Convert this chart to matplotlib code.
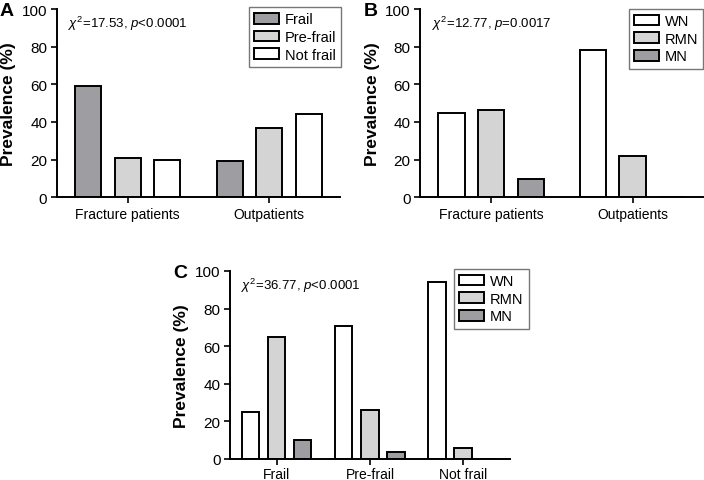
import matplotlib
matplotlib.use("Agg")
import matplotlib.pyplot as plt
import numpy as np

plt.rcParams['font.family'] = ['Liberation Sans', 'DejaVu Sans']
plt.rcParams['mathtext.fontset'] = 'custom'
plt.rcParams['mathtext.it'] = 'Liberation Sans:italic'
plt.rcParams['mathtext.rm'] = 'Liberation Sans'

# Panel A
groups_a = ["Fracture patients", "Outpatients"]
series_a = ["Frail", "Pre-frail", "Not frail"]
frail_a = [59, 19]
prefrail_a = [21, 37]
notfrail_a = [20, 44]

# Panel B
groups_b = ["Fracture patients", "Outpatients"]
series_b = ["WN", "RMN", "MN"]
wn_b = [44.5, 78]
rmn_b = [46.5, 22]
mn_b = [9.5, 0]

# Panel C
groups_c = ["Frail", "Pre-frail", "Not frail"]
series_c = ["WN", "RMN", "MN"]
wn_c = [25, 70.5, 94]
rmn_c = [65, 26, 6]
mn_c = [10, 3.5, 0]

DARK = "#9d9da2"
LIGHT = "#d4d4d4"
WHITE = "#ffffff"

fig = plt.figure(figsize=(7.04, 4.81), dpi=100)

def panel(rect, groups, names, data, colors, stat, letter, leg_anchor, xpad=3):
    ax = fig.add_axes(rect)
    x = np.arange(len(groups))
    offs = [-0.28, 0.0, 0.28]
    for i, (vals, c, nm) in enumerate(zip(data, colors, names)):
        ax.bar(x + offs[i], vals, width=0.185, color=c, edgecolor="black",
               linewidth=1.4, label=nm)
    ax.set_xlim(-0.5, len(groups) - 0.5)
    ax.set_ylim(0, 100)
    ax.set_yticks([0, 20, 40, 60, 80, 100])
    ax.set_xticks(x)
    ax.set_xticklabels(groups, fontsize=10)
    ax.tick_params(axis='y', labelsize=11, width=1.2, length=4, pad=3)
    ax.tick_params(axis='x', width=1.2, length=4, pad=xpad)
    for s in ["top", "right"]:
        ax.spines[s].set_visible(False)
    for s in ["left", "bottom"]:
        ax.spines[s].set_linewidth(1.4)
    ax.set_ylabel("Prevalence (%)", fontsize=12.5, fontweight="bold", labelpad=4)
    ax.text(0.04, 0.925, stat, transform=ax.transAxes, fontsize=9.5, va="center")
    leg = ax.legend(loc="upper right", bbox_to_anchor=leg_anchor, frameon=True,
                    fancybox=False, edgecolor="#555555", fontsize=10.5,
                    handlelength=1.7, handleheight=0.75, handletextpad=0.4,
                    labelspacing=0.25, borderpad=0.35, borderaxespad=0.0)
    leg.get_frame().set_linewidth(1.0)
    leg.set_clip_on(False)
    fig.text(rect[0] - 0.081, rect[1] + rect[3] - 0.003, letter, fontsize=14,
             fontweight="bold", va="center", ha="left")
    return ax

panel([0.081, 0.588, 0.402, 0.391], groups_a, series_a,
      [frail_a, prefrail_a, notfrail_a], [DARK, LIGHT, WHITE],
      r"$\chi^{2}$=17.53, $p$<0.0001", "A", (1.004, 1.01))
panel([0.597, 0.588, 0.402, 0.391], groups_b, series_b,
      [wn_b, rmn_b, mn_b], [WHITE, LIGHT, DARK],
      r"$\chi^{2}$=12.77, $p$=0.0017", "B", (1.0, 1.0))
panel([0.327, 0.0437, 0.397, 0.391], groups_c, series_c,
      [wn_c, rmn_c, mn_c], [WHITE, LIGHT, DARK],
      r"$\chi^{2}$=36.77, $p$<0.0001", "C", (1.068, 1.01), xpad=1.5)

fig.savefig("out.png", dpi=100)
